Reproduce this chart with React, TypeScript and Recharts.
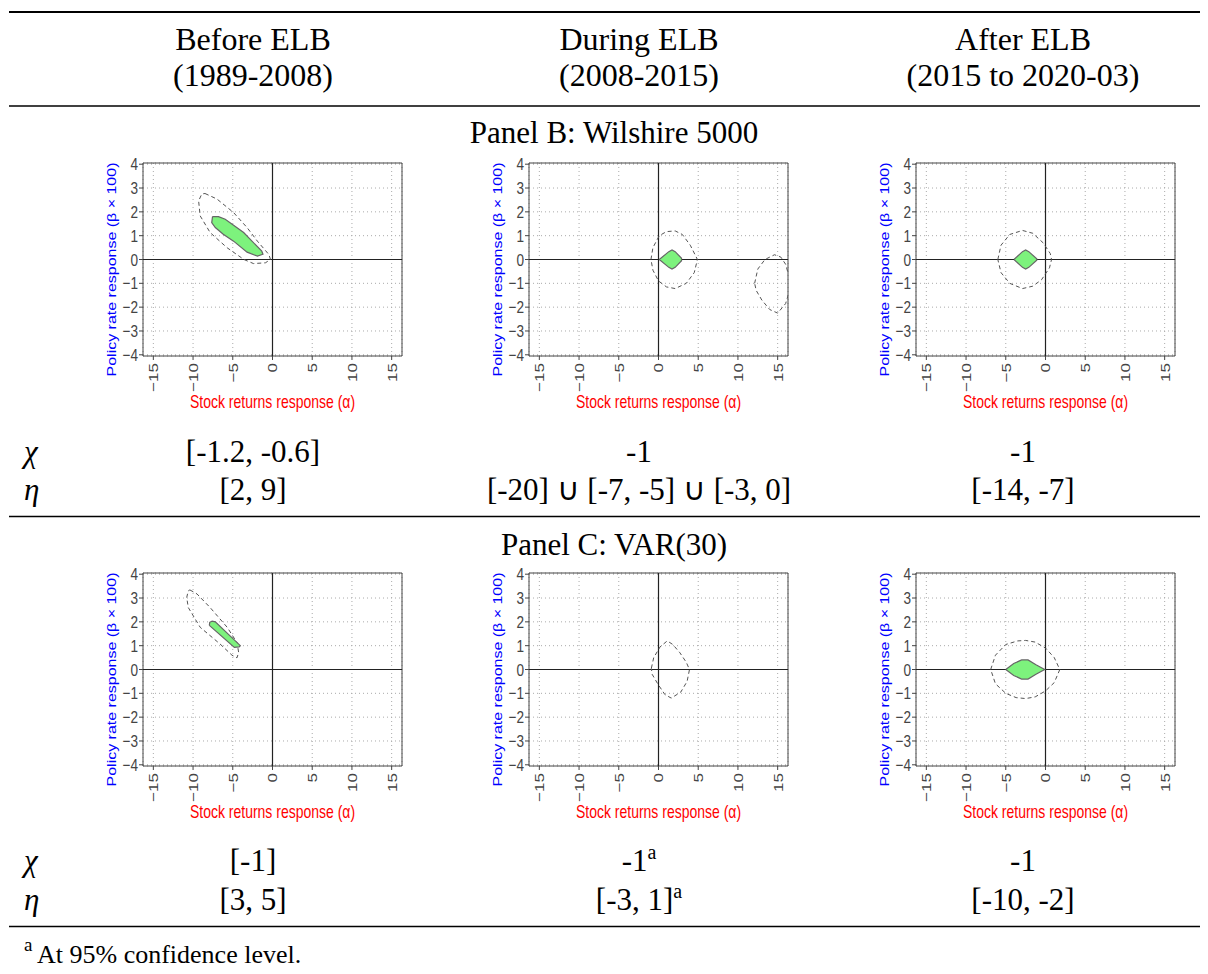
import React from "react";
import {
  ScatterChart,
  Scatter,
  XAxis,
  YAxis,
  CartesianGrid,
  ReferenceLine,
  ReferenceArea,
  Label,
} from "recharts";

// table text
const columnTitles = ["Before ELB", "During ELB", "After ELB"];
const columnPeriods = ["(1989-2008)", "(2008-2015)", "(2015 to 2020-03)"];
const panelTitles = ["Panel B: Wilshire 5000", "Panel C: VAR(30)"];
const chiWilshire = ["[-1.2, -0.6]", "-1", "-1"];
const etaWilshire = ["[2, 9]", "[-20] \u222A [-7, -5] \u222A [-3, 0]", "[-14, -7]"];
const chiVar = ["[-1]", "-1", "-1"];
const etaVar = ["[3, 5]", "[-3, 1]", "[-10, -2]"];
const varNoteMark = [false, true, false];
const footnote = "At 95% confidence level.";

// axes
const xTicks = [-15, -10, -5, 0, 5, 10, 15];
const yTicks = [-4, -3, -2, -1, 0, 1, 2, 3, 4];
const xDomain = [-16.3, 16.3];
const yDomain = [-4.05, 4.05];

// identified sets (green) and confidence regions (dashed), [alpha, beta*100]
const wilshireBeforeInner = [
  [-7.55, 1.8], [-6.8, 1.8], [-5.95, 1.69], [-3.63, 1.13], [-1.35, 0.35], [-1.2, 0.22],
  [-1.9, 0.14], [-3.2, 0.31], [-4.9, 0.77], [-6.2, 1.06], [-7.2, 1.34], [-7.65, 1.55], [-7.55, 1.8],
];
const wilshireBeforeOuter = [
  [-8.5, 2.77], [-7.0, 2.54], [-4.9, 1.97], [-3.2, 1.34], [-1.9, 0.77], [-0.46, 0.21], [-0.25, 0],
  [-0.9, -0.14], [-2.4, -0.17], [-3.6, 0.0], [-5.7, 0.49], [-7.85, 1.13], [-9.1, 1.83],
  [-9.3, 2.46], [-8.9, 2.75], [-8.5, 2.77],
];
const wilshireDuringInner = [
  [0.1, 0], [1.3, 0.33], [1.7, 0.4], [2.1, 0.33], [2.9, 0.05], [2.9, -0.05], [2.1, -0.33],
  [1.7, -0.4], [1.3, -0.33], [0.1, 0],
];
const wilshireDuringOuter = [
  [-0.95, 0], [-0.7, 0.5], [0.1, 1.0], [1.0, 1.17], [2.1, 1.2], [3.0, 1.05], [4.0, 0.6], [4.9, 0.0],
  [4.5, -0.55], [3.5, -1.0], [2.1, -1.22], [1.0, -1.15], [0.0, -0.9], [-0.7, -0.45], [-0.95, 0],
];
const wilshireDuringOuter2 = [
  [12.1, -1.0], [12.5, -0.4], [13.4, 0.0], [14.6, 0.2], [15.4, 0.1], [16.0, -0.2], [16.5, -0.8],
  [16.5, -1.3], [16.0, -1.85], [15.0, -2.25], [14.0, -2.1], [13.0, -1.7], [12.3, -1.3], [12.1, -1.0],
];
const wilshireAfterInner = [
  [-3.97, 0], [-2.9, 0.33], [-2.5, 0.4], [-2.1, 0.33], [-1.1, 0.03], [-1.1, -0.03], [-2.1, -0.33],
  [-2.5, -0.4], [-2.9, -0.33], [-3.97, 0],
];
const wilshireAfterOuter = [
  [-6.0, 0], [-5.6, 0.6], [-4.5, 1.05], [-2.9, 1.22], [-1.6, 1.1], [-0.3, 0.7], [0.6, 0.25],
  [0.76, 0], [0.5, -0.35], [-0.5, -0.85], [-1.6, -1.12], [-2.9, -1.22], [-4.5, -1.0],
  [-5.6, -0.55], [-6.0, 0],
];
const varBeforeInner = [
  [-7.95, 1.85], [-7.9, 1.98], [-7.6, 2.03], [-7.2, 2.0], [-4.05, 1.0], [-4.2, 0.95],
  [-4.8, 0.93], [-7.95, 1.85],
];
const varBeforeOuter = [
  [-10.4, 3.34], [-9.5, 3.17], [-7.85, 2.6], [-5.7, 1.77], [-4.47, 1.13], [-4.26, 0.72],
  [-4.47, 0.49], [-5.1, 0.6], [-6.6, 1.07], [-9.1, 1.77], [-10.6, 2.6], [-10.8, 3.02],
  [-10.6, 3.3], [-10.4, 3.34],
];
const varDuringOuter = [
  [-0.9, 0.05], [-0.6, 0.5], [0.2, 0.95], [1.1, 1.2], [1.8, 1.05], [2.7, 0.7], [3.5, 0.3], [3.9, 0],
  [3.6, -0.5], [2.8, -0.95], [1.6, -1.2], [0.8, -1.05], [-0.1, -0.6], [-0.8, -0.2], [-0.9, 0.05],
];
const varAfterInner = [
  [-5.0, 0], [-4.0, 0.25], [-3.0, 0.4], [-2.2, 0.4], [-1.2, 0.2], [-0.1, 0], [-1.2, -0.2],
  [-2.2, -0.4], [-3.0, -0.4], [-4.0, -0.25], [-5.0, 0],
];
const varAfterOuter = [
  [-6.9, 0], [-6.3, 0.6], [-5.0, 1.05], [-3.5, 1.2], [-2.5, 1.22], [-1.3, 1.15], [0.0, 0.9],
  [1.1, 0.5], [1.8, 0], [1.1, -0.55], [0.0, -0.9], [-1.3, -1.15], [-2.5, -1.22], [-3.7, -1.18],
  [-5.0, -1.0], [-6.3, -0.6], [-6.9, 0],
];

const toPts = (arr: number[][]) => arr.map(([x, y]) => ({ x, y }));
const fmt = (v: number) => (v < 0 ? "\u2212" + Math.abs(v) : String(v));

const SERIF = "'Liberation Serif', 'Times New Roman', serif";
const SANS = "'Liberation Sans', Arial, sans-serif";

const charts = [
  { left: 143, top: 163, inner: [wilshireBeforeInner], outer: [wilshireBeforeOuter] },
  { left: 529, top: 163, inner: [wilshireDuringInner], outer: [wilshireDuringOuter, wilshireDuringOuter2] },
  { left: 916, top: 163, inner: [wilshireAfterInner], outer: [wilshireAfterOuter] },
  { left: 143, top: 573, inner: [varBeforeInner], outer: [varBeforeOuter] },
  { left: 529, top: 573, inner: [], outer: [varDuringOuter] },
  { left: 916, top: 573, inner: [varAfterInner], outer: [varAfterOuter] },
];

// the R figure was squeezed horizontally; mimic it with a scaleX on the text
const SQUEEZE = 0.8;

const RotTick = (props: any) => {
  const { x, y, payload } = props;
  const ty = y + 1;
  return (
    <text
      x={0}
      y={0}
      transform={`translate(${x} ${ty}) scale(${SQUEEZE} 1) rotate(-90)`}
      textAnchor="end"
      dominantBaseline="central"
      fontSize={17}
      fill="#444"
      fontFamily={SANS}
    >
      {fmt(payload.value)}
    </text>
  );
};

const YTick = (props: any) => {
  const { x, y, payload } = props;
  return (
    <text
      x={0}
      y={0}
      transform={`translate(${x} ${y}) scale(${SQUEEZE} 1)`}
      textAnchor="end"
      dominantBaseline="central"
      fontSize={17}
      fill="#444"
      fontFamily={SANS}
    >
      {fmt(payload.value)}
    </text>
  );
};

const XTitle = (props: any) => {
  const vb = props.viewBox || {};
  const cx = vb.x + vb.width / 2;
  const cy = vb.y + 52;
  return (
    <text
      x={0}
      y={0}
      transform={`translate(${cx} ${cy}) scale(${SQUEEZE} 1)`}
      textAnchor="middle"
      fontSize={17.5}
      fill="#ff0000"
      fontFamily={SANS}
    >
      Stock returns response (α)
    </text>
  );
};

const YTitle = (props: any) => {
  const vb = props.viewBox || {};
  const cx = vb.x + vb.width - 31;
  const cy = vb.y + vb.height / 2 + 10;
  return (
    <text
      x={0}
      y={0}
      transform={`translate(${cx} ${cy}) scale(${SQUEEZE} 1) rotate(-90)`}
      textAnchor="middle"
      dominantBaseline="central"
      fontSize={16}
      fill="#0000ff"
      fontFamily={SANS}
    >
      Policy rate response (β × 100)
    </text>
  );
};

const NoDot = () => <g />;

function RegionChart({ left, top, inner, outer }: { left: number; top: number; inner: number[][][]; outer: number[][][] }) {
  return (
    <div style={{ position: "absolute", left: left - 50, top: top - 10 }}>
      <ScatterChart width={319} height={265} margin={{ top: 10, right: 10, bottom: 0, left: 0 }}>
        <CartesianGrid stroke="#aaa" strokeDasharray="1 3" />
        <XAxis
          type="number"
          dataKey="x"
          domain={xDomain}
          ticks={xTicks}
          allowDataOverflow
          interval={0}
          axisLine={false}
          tickLine={{ stroke: "#444" }}
          tickSize={4}
          height={62}
          tick={<RotTick />}
        >
          <Label content={<XTitle />} />
        </XAxis>
        <YAxis
          type="number"
          dataKey="y"
          domain={yDomain}
          ticks={yTicks}
          allowDataOverflow
          interval={0}
          axisLine={false}
          tickLine={{ stroke: "#444" }}
          tickSize={4}
          tickMargin={1}
          width={50}
          tick={<YTick />}
        >
          <Label content={<YTitle />} />
        </YAxis>
        {outer.map((s, i) => (
          <Scatter
            key={"o" + i}
            data={toPts(s)}
            shape={NoDot}
            line={{ stroke: "#555", strokeWidth: 1, strokeDasharray: "4 3", fill: "none" }}
            isAnimationActive={false}
          />
        ))}
        {inner.map((s, i) => (
          <Scatter
            key={"i" + i}
            data={toPts(s)}
            shape={NoDot}
            line={{ stroke: "#666", strokeWidth: 1.2, fill: "#7DF27D" }}
            isAnimationActive={false}
          />
        ))}
        <ReferenceLine x={0} stroke="#222" strokeWidth={1.2} />
        <ReferenceLine y={0} stroke="#222" strokeWidth={1.2} />
        <ReferenceArea x1={xDomain[0]} x2={xDomain[1]} y1={yDomain[0]} y2={yDomain[1]} fill="none" stroke="#444" strokeWidth={1} />
      </ScatterChart>
    </div>
  );
}

const colX = [253, 639, 1023];

function Sup({ text, mark }: { text: string; mark: boolean }) {
  return (
    <>
      {text}
      {mark && (
        <tspan fontSize={20} dy={-12}>
          a
        </tspan>
      )}
    </>
  );
}

export default function App() {
  return (
    <div style={{ position: "absolute", left: 0, top: 0, width: 1208, height: 974, background: "#fff" }}>
      <svg width={1208} height={974} style={{ position: "absolute", left: 0, top: 0 }} fontFamily={SERIF} fill="#000">
        <line x1={9} x2={1200} y1={12} y2={12} stroke="#000" strokeWidth={2.2} />
        <line x1={9} x2={1200} y1={106} y2={106} stroke="#000" strokeWidth={1.4} />
        <line x1={9} x2={1200} y1={516.5} y2={516.5} stroke="#000" strokeWidth={1.4} />
        <line x1={9} x2={1200} y1={926.5} y2={926.5} stroke="#000" strokeWidth={1.4} />
        {columnTitles.map((t, i) => (
          <text key={"t" + i} x={colX[i]} y={50} textAnchor="middle" fontSize={32}>{t}</text>
        ))}
        {columnPeriods.map((t, i) => (
          <text key={"p" + i} x={colX[i]} y={86} textAnchor="middle" fontSize={32}>{t}</text>
        ))}
        <text x={614} y={143} textAnchor="middle" fontSize={31}>{panelTitles[0]}</text>
        <text x={614} y={555} textAnchor="middle" fontSize={31}>{panelTitles[1]}</text>
        <text x={24} y={462} fontSize={31} fontStyle="italic">χ</text>
        <text x={24} y={500} fontSize={31} fontStyle="italic">η</text>
        <text x={24} y={871} fontSize={31} fontStyle="italic">χ</text>
        <text x={24} y={910} fontSize={31} fontStyle="italic">η</text>
        {chiWilshire.map((t, i) => (
          <text key={"cw" + i} x={colX[i]} y={462} textAnchor="middle" fontSize={31}>{t}</text>
        ))}
        {etaWilshire.map((t, i) => (
          <text key={"ew" + i} x={colX[i]} y={500} textAnchor="middle" fontSize={31}>{t}</text>
        ))}
        {chiVar.map((t, i) => (
          <text key={"cv" + i} x={colX[i]} y={871} textAnchor="middle" fontSize={31}>
            <Sup text={t} mark={varNoteMark[i]} />
          </text>
        ))}
        {etaVar.map((t, i) => (
          <text key={"ev" + i} x={colX[i]} y={910} textAnchor="middle" fontSize={31}>
            <Sup text={t} mark={varNoteMark[i]} />
          </text>
        ))}
        <text x={24} y={951} fontSize={19}>a</text>
        <text x={37} y={963} fontSize={26}>{footnote}</text>
      </svg>
      {charts.map((c, i) => (
        <RegionChart key={i} left={c.left} top={c.top} inner={c.inner} outer={c.outer} />
      ))}
    </div>
  );
}
